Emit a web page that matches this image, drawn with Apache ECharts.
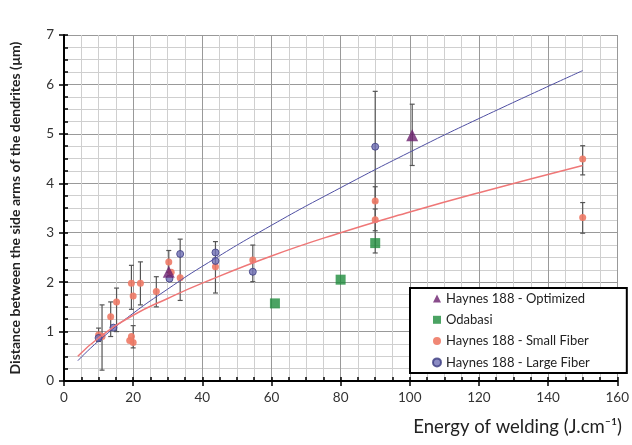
<!DOCTYPE html>
<html>
<head>
<meta charset="utf-8">
<script src="https://cdn.jsdelivr.net/npm/echarts@6/dist/echarts.min.js"></script>
<style>
html, body { margin: 0; padding: 0; background: #fff; }
#chart { width: 632px; height: 445px; }
</style>
</head>
<body>
<div id="chart"></div>
<script>
// values
const optimized = [[30.3, 2.21], [100.7, 4.97]]
const odabasi = [[61, 1.57], [80, 2.05], [90, 2.79]]
const smallFiber = [
  [10, 0.93], [11, 0.9], [13.5, 1.3], [15.2, 1.6], [19, 0.82], [19.5, 0.9], [20, 0.78],
  [19.5, 1.98], [20, 1.72], [22.1, 1.98], [26.7, 1.81], [30.3, 2.41], [31, 2.2],
  [33.6, 2.09], [43.8, 2.31], [54.6, 2.45], [90, 3.64], [90, 3.26], [150, 4.49], [150, 3.31]
]
const largeFiber = [
  [10, 0.87], [14.3, 1.08], [30.5, 2.07], [33.6, 2.57], [43.8, 2.6], [43.8, 2.43],
  [54.6, 2.21], [90, 4.74]
]
// [x, low, high]
const errorBars = [
  [10, 0.8, 1.07], [11, 0.22, 1.54], [13.5, 0.9, 1.6], [15.2, 1.0, 1.88],
  [19.5, 1.45, 2.34], [20, 0.67, 1.12], [22.1, 1.54, 2.41], [26.7, 1.5, 2.11],
  [30.3, 2.2, 2.64], [33.6, 1.63, 2.87], [43.8, 1.78, 2.82], [54.6, 2.01, 2.75],
  [90, 3.62, 5.86], [90, 3.04, 3.93], [90, 2.59, 3.48], [100.7, 4.36, 5.6],
  [150, 4.17, 4.76], [150, 2.99, 3.61]
]
// trend curves, read at a few x positions
const largeFit = [[4, 0.41], [10, 0.81], [20, 1.37], [30, 1.86], [40, 2.32], [60, 3.15],
  [80, 3.91], [100, 4.63], [120, 5.31], [150, 6.28]]
const smallFit = [[4, 0.5], [10, 0.87], [20, 1.33], [30, 1.67], [40, 1.98], [60, 2.53],
  [80, 3.0], [100, 3.42], [120, 3.81], [150, 4.36]]

const xTicks = { min: 0, max: 160, interval: 20 }
const yTicks = { min: 0, max: 7, interval: 1 }

const font = 'Lato, "Open Sans", sans-serif'
const chart = echarts.init(document.getElementById('chart'))

const errorBarItem = (params, api) => {
  const lo = api.coord([api.value(0), api.value(1)])
  const hi = api.coord([api.value(0), api.value(2)])
  const style = { stroke: '#555', lineWidth: 1.2 }
  const w = 2.5
  return {
    type: 'group',
    children: [
      { type: 'line', shape: { x1: lo[0], y1: lo[1], x2: hi[0], y2: hi[1] }, style },
      { type: 'line', shape: { x1: lo[0] - w, y1: lo[1], x2: lo[0] + w, y2: lo[1] }, style },
      { type: 'line', shape: { x1: hi[0] - w, y1: hi[1], x2: hi[0] + w, y2: hi[1] }, style }
    ]
  }
}

chart.setOption({
  backgroundColor: '#fff',
  animation: false,
  textStyle: { fontFamily: font },
  grid: { left: 60, right: 12, top: 35, bottom: 64 },
  legend: {
    orient: 'vertical',
    left: 410,
    top: 288,
    padding: [3, 37, 3, 22],
    itemGap: 6.3,
    itemWidth: 8,
    itemHeight: 8,
    borderColor: '#000',
    borderWidth: 2,
    backgroundColor: '#fff',
    textStyle: { fontSize: 13, color: '#222', fontFamily: font, lineHeight: 15 },
    data: ['Haynes 188 - Optimized', 'Odabasi', 'Haynes 188 - Small Fiber', 'Haynes 188 - Large Fiber']
  },
  xAxis: [
    {
      type: 'value',
      ...xTicks,
      position: 'bottom',
      axisLine: { lineStyle: { color: '#000', width: 2 } },
      axisTick: { length: 5, lineStyle: { color: '#000', width: 1.5 } },
      axisLabel: { fontSize: 13.5, color: '#333', margin: 10 },
      splitLine: { lineStyle: { color: '#999', width: 1 } },
      minorTick: { show: false, splitNumber: 4 },
      minorSplitLine: { show: true, lineStyle: { color: '#cfcfcf', width: 1 } }
    },
    {
      type: 'value',
      min: 0, max: 160, interval: 5,
      position: 'bottom',
      axisLine: { show: false },
      axisTick: { inside: true, length: 4, lineStyle: { color: '#000', width: 1.5 } },
      axisLabel: { show: false },
      splitLine: { show: false }
    }
  ],
  yAxis: [
    {
      type: 'value',
      ...yTicks,
      position: 'left',
      name: 'Distance between the side arms of the dendrites (µm)',
      nameLocation: 'middle',
      nameGap: 42,
      nameTextStyle: { fontSize: 14, fontWeight: 'bold', color: '#222' },
      axisLine: { lineStyle: { color: '#000', width: 2 } },
      axisTick: { length: 5, lineStyle: { color: '#000', width: 1.5 } },
      axisLabel: { fontSize: 13.5, color: '#333', margin: 10 },
      splitLine: { lineStyle: { color: '#999', width: 1 } },
      minorTick: { show: false, splitNumber: 4 },
      minorSplitLine: { show: true, lineStyle: { color: '#cfcfcf', width: 1 } }
    },
    {
      type: 'value',
      min: 0, max: 7, interval: 0.25,
      position: 'left',
      axisLine: { show: false },
      axisTick: { inside: true, length: 4, lineStyle: { color: '#000', width: 1.5 } },
      axisLabel: { show: false },
      splitLine: { show: false }
    }
  ],
  graphic: [
    {
      type: 'text',
      right: 10,
      top: 418,
      style: { text: 'Energy of welding (J.cm⁻¹)', fontSize: 18.5, fill: '#222', fontFamily: font }
    }
  ],
  series: [
    {
      name: 'errors',
      type: 'custom',
      renderItem: errorBarItem,
      encode: { x: 0, y: [1, 2] },
      data: errorBars,
      z: 2
    },
    {
      name: 'Large Fiber fit',
      type: 'line',
      smooth: true,
      symbol: 'none',
      data: largeFit,
      lineStyle: { color: '#4f4fa3', width: 1 },
      z: 4
    },
    {
      name: 'Small Fiber fit',
      type: 'line',
      smooth: true,
      symbol: 'none',
      data: smallFit,
      lineStyle: { color: '#ef7777', width: 1.5 },
      z: 4
    },
    {
      name: 'Haynes 188 - Small Fiber',
      type: 'scatter',
      symbol: 'circle',
      symbolSize: 7,
      data: smallFiber,
      itemStyle: { color: '#ee7a66', opacity: 0.9 },
      z: 3
    },
    {
      name: 'Haynes 188 - Large Fiber',
      type: 'scatter',
      symbol: 'circle',
      symbolSize: 7,
      data: largeFiber,
      itemStyle: { color: '#6f6fb5', borderColor: '#3c3c80', borderWidth: 1 },
      z: 3
    },
    {
      name: 'Odabasi',
      type: 'scatter',
      symbol: 'rect',
      symbolSize: 10,
      data: odabasi,
      itemStyle: { color: '#1e8c3c' },
      z: 3
    },
    {
      name: 'Haynes 188 - Optimized',
      type: 'scatter',
      symbol: 'triangle',
      symbolSize: 12,
      data: optimized,
      itemStyle: { color: '#6b1f6e' },
      z: 3
    }
  ]
})
</script>
</body>
</html>
